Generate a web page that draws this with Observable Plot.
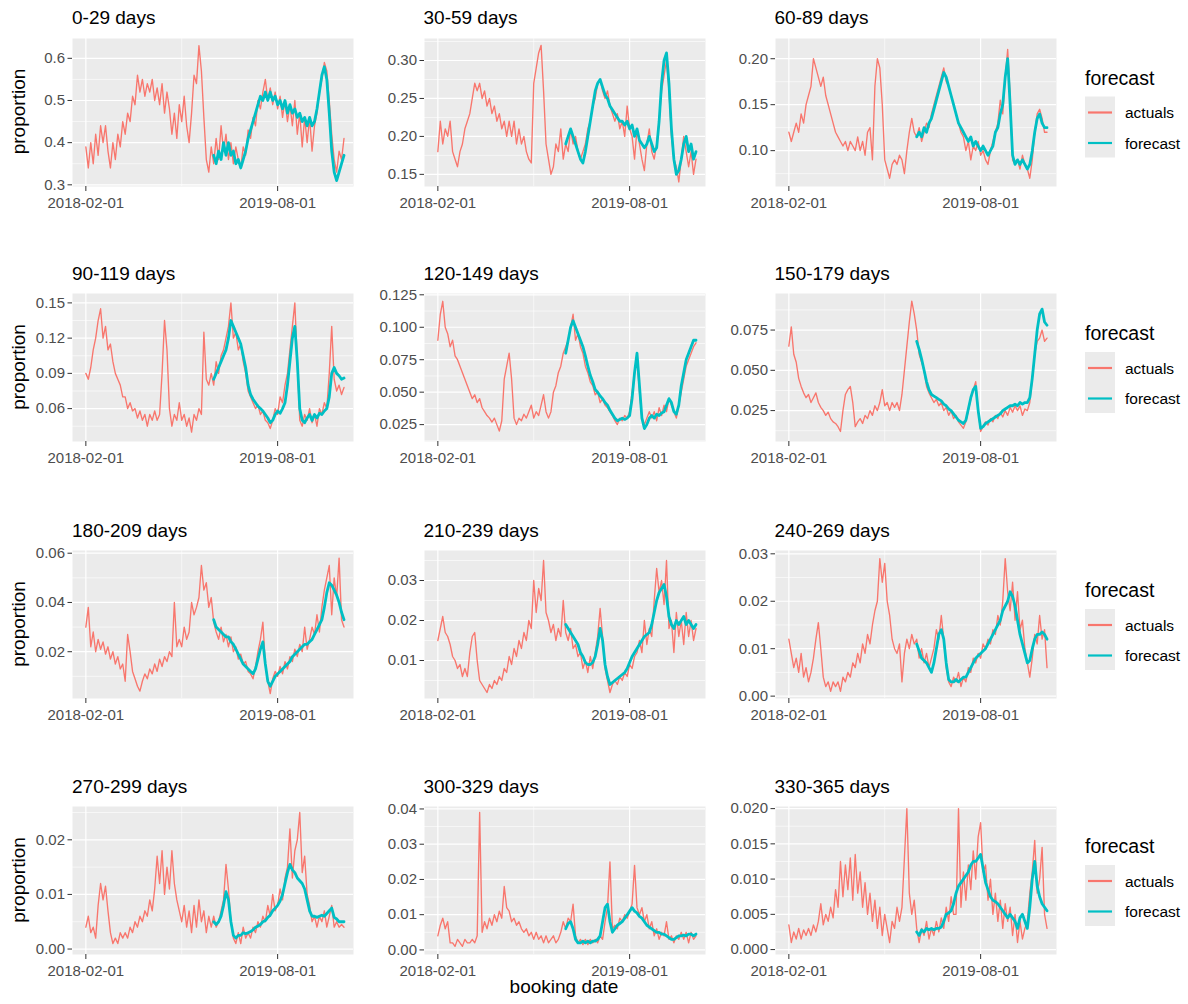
<!DOCTYPE html>
<html>
<head>
<meta charset="utf-8">
<script src="https://cdn.jsdelivr.net/npm/d3@7"></script>
<script src="https://cdn.jsdelivr.net/npm/@observablehq/plot@0.6"></script>
<style>
  body { margin: 0; background: #fff; }
  #chart { position: relative; width: 1188px; height: 1004px; font-family: "Liberation Sans", Arial, Helvetica, sans-serif; }
  #chart svg { position: absolute; }
</style>
</head>
<body>
<div id="chart"></div>
<script>
// Weekly booking-date samples starting at the first booking date; the forecast covers the final year.
const firstBookingDate = "2018-02-01";
const forecastFromWeek = 52;
const xTickDates = ["2018-02-01", "2019-08-01"];
const xTickLabels = ["2018-02-01", "2019-08-01"];
const seriesNames = ["actuals", "forecast"];
const seriesColors = ["#F8766D", "#00BFC4"];

const panelTitles = ["0-29 days", "30-59 days", "60-89 days", "90-119 days", "120-149 days", "150-179 days",
  "180-209 days", "210-239 days", "240-269 days", "270-299 days", "300-329 days", "330-365 days"];

// ---- 0-29 days
const actuals_0_29 = [
  0.39, 0.34, 0.40, 0.35, 0.42, 0.37, 0.44, 0.40, 0.44, 0.38,
  0.34, 0.40, 0.36, 0.42, 0.39, 0.45, 0.42, 0.47, 0.45, 0.51,
  0.49, 0.56, 0.52, 0.55, 0.51, 0.54, 0.52, 0.55, 0.50, 0.53,
  0.49, 0.54, 0.47, 0.52, 0.48, 0.42, 0.47, 0.41, 0.49, 0.45,
  0.51, 0.44, 0.40, 0.47, 0.56, 0.54, 0.63, 0.57, 0.46, 0.36,
  0.33, 0.39, 0.35, 0.41, 0.36, 0.44, 0.38, 0.42, 0.36, 0.40,
  0.35, 0.39, 0.36, 0.34, 0.39, 0.37, 0.43, 0.41, 0.46, 0.44,
  0.50, 0.48, 0.52, 0.55, 0.50, 0.53, 0.49, 0.52, 0.48, 0.51,
  0.46, 0.50, 0.45, 0.49, 0.44, 0.50, 0.42, 0.47, 0.39, 0.46,
  0.40, 0.46, 0.38, 0.44, 0.47, 0.52, 0.55, 0.59, 0.57, 0.50,
  0.42, 0.36, 0.33, 0.38, 0.36, 0.41];
const forecast_0_29 = [
  0.37, 0.35, 0.38, 0.36, 0.40, 0.37, 0.40, 0.37,
  0.38, 0.35, 0.36, 0.34, 0.36, 0.38, 0.41, 0.43, 0.45, 0.47,
  0.49, 0.51, 0.50, 0.52, 0.50, 0.52, 0.50, 0.51, 0.49, 0.50,
  0.48, 0.50, 0.47, 0.49, 0.47, 0.48, 0.46, 0.47, 0.45, 0.46,
  0.44, 0.46, 0.44, 0.45, 0.48, 0.52, 0.56, 0.58, 0.55, 0.47,
  0.38, 0.33, 0.31, 0.33, 0.35, 0.37];
const yTicks_0_29 = [0.3, 0.4, 0.5, 0.6];
const yLabels_0_29 = ["0.3", "0.4", "0.5", "0.6"];

// ---- 30-59 days
const actuals_30_59 = [
  0.18, 0.22, 0.19, 0.21, 0.20, 0.22, 0.18, 0.17, 0.16, 0.18,
  0.19, 0.21, 0.22, 0.23, 0.25, 0.27, 0.26, 0.27, 0.25, 0.26,
  0.24, 0.25, 0.23, 0.24, 0.22, 0.23, 0.21, 0.22, 0.20, 0.22,
  0.20, 0.22, 0.19, 0.21, 0.19, 0.20, 0.18, 0.17, 0.165, 0.27,
  0.29, 0.31, 0.32, 0.26, 0.19, 0.17, 0.15, 0.16, 0.19, 0.18,
  0.21, 0.17, 0.19, 0.18, 0.21, 0.19, 0.20, 0.18, 0.17, 0.18,
  0.19, 0.21, 0.22, 0.24, 0.25, 0.27, 0.275, 0.26, 0.25, 0.26,
  0.24, 0.23, 0.22, 0.23, 0.21, 0.22, 0.20, 0.24, 0.21, 0.20,
  0.17, 0.21, 0.19, 0.17, 0.155, 0.19, 0.21, 0.18, 0.17, 0.19,
  0.22, 0.26, 0.28, 0.30, 0.26, 0.20, 0.17, 0.16, 0.14, 0.17,
  0.20, 0.18, 0.16, 0.18, 0.15, 0.17];
const forecast_30_59 = [
  0.19, 0.20, 0.21, 0.20, 0.19, 0.18, 0.17, 0.165,
  0.18, 0.20, 0.22, 0.24, 0.26, 0.27, 0.275, 0.265, 0.255, 0.25,
  0.24, 0.235, 0.23, 0.225, 0.22, 0.22, 0.215, 0.22, 0.21, 0.215,
  0.20, 0.21, 0.195, 0.19, 0.185, 0.19, 0.20, 0.19, 0.18, 0.185,
  0.22, 0.27, 0.30, 0.31, 0.27, 0.21, 0.17, 0.15, 0.155, 0.17,
  0.19, 0.20, 0.18, 0.19, 0.17, 0.18];
const yTicks_30_59 = [0.15, 0.20, 0.25, 0.30];
const yLabels_30_59 = ["0.15", "0.20", "0.25", "0.30"];

// ---- 60-89 days
const actuals_60_89 = [
  0.12, 0.11, 0.12, 0.13, 0.12, 0.14, 0.13, 0.15, 0.16, 0.17,
  0.20, 0.19, 0.18, 0.17, 0.18, 0.16, 0.15, 0.14, 0.13, 0.12,
  0.115, 0.11, 0.105, 0.11, 0.10, 0.11, 0.105, 0.10, 0.115, 0.10,
  0.11, 0.095, 0.12, 0.125, 0.09, 0.17, 0.20, 0.19, 0.15, 0.09,
  0.08, 0.07, 0.085, 0.09, 0.085, 0.095, 0.09, 0.075, 0.10, 0.12,
  0.135, 0.12, 0.115, 0.125, 0.11, 0.12, 0.13, 0.125, 0.14, 0.15,
  0.16, 0.17, 0.18, 0.19, 0.175, 0.17, 0.16, 0.15, 0.14, 0.13,
  0.12, 0.115, 0.10, 0.11, 0.09, 0.105, 0.10, 0.11, 0.095, 0.10,
  0.09, 0.085, 0.10, 0.11, 0.12, 0.13, 0.155, 0.14, 0.18, 0.21,
  0.16, 0.09, 0.085, 0.09, 0.08, 0.095, 0.085, 0.08, 0.07, 0.09,
  0.12, 0.14, 0.145, 0.135, 0.12, 0.12];
const forecast_60_89 = [
  0.115, 0.12, 0.115, 0.125, 0.12, 0.13, 0.135, 0.145,
  0.155, 0.165, 0.175, 0.185, 0.18, 0.17, 0.16, 0.15, 0.14, 0.13,
  0.125, 0.12, 0.115, 0.11, 0.115, 0.105, 0.11, 0.105, 0.10, 0.105,
  0.10, 0.095, 0.10, 0.105, 0.12, 0.125, 0.14, 0.15, 0.18, 0.20,
  0.15, 0.095, 0.085, 0.09, 0.085, 0.09, 0.085, 0.08, 0.085, 0.10,
  0.12, 0.135, 0.14, 0.13, 0.125, 0.125];
const yTicks_60_89 = [0.10, 0.15, 0.20];
const yLabels_60_89 = ["0.10", "0.15", "0.20"];

// ---- 90-119 days
const actuals_90_119 = [
  0.09, 0.085, 0.095, 0.11, 0.12, 0.135, 0.145, 0.12, 0.13, 0.11,
  0.115, 0.10, 0.09, 0.085, 0.08, 0.07, 0.07, 0.06, 0.065, 0.058,
  0.06, 0.052, 0.058, 0.05, 0.055, 0.045, 0.055, 0.05, 0.058, 0.05,
  0.055, 0.09, 0.135, 0.11, 0.06, 0.045, 0.055, 0.05, 0.065, 0.05,
  0.055, 0.045, 0.052, 0.04, 0.055, 0.05, 0.06, 0.055, 0.125, 0.085,
  0.08, 0.09, 0.08, 0.10, 0.09, 0.105, 0.11, 0.12, 0.13, 0.15,
  0.12, 0.125, 0.11, 0.115, 0.10, 0.09, 0.075, 0.07, 0.065, 0.06,
  0.063, 0.055, 0.058, 0.05, 0.048, 0.043, 0.05, 0.06, 0.055, 0.07,
  0.065, 0.08, 0.09, 0.11, 0.13, 0.15, 0.10, 0.05, 0.045, 0.055,
  0.05, 0.06, 0.048, 0.055, 0.045, 0.06, 0.055, 0.065, 0.06, 0.09,
  0.13, 0.085, 0.075, 0.08, 0.072, 0.078];
const forecast_90_119 = [
  0.085, 0.09, 0.095, 0.10, 0.105, 0.11, 0.12, 0.135,
  0.13, 0.125, 0.12, 0.115, 0.105, 0.095, 0.08, 0.072, 0.068, 0.065,
  0.062, 0.06, 0.058, 0.055, 0.052, 0.048, 0.05, 0.055, 0.058, 0.056,
  0.06, 0.065, 0.08, 0.10, 0.12, 0.13, 0.10, 0.06, 0.05, 0.048,
  0.052, 0.055, 0.05, 0.055, 0.052, 0.056, 0.055, 0.058, 0.06, 0.07,
  0.09, 0.095, 0.09, 0.088, 0.085, 0.086];
const yTicks_90_119 = [0.06, 0.09, 0.12, 0.15];
const yLabels_90_119 = ["0.06", "0.09", "0.12", "0.15"];

// ---- 120-149 days
const actuals_120_149 = [
  0.09, 0.11, 0.12, 0.10, 0.095, 0.085, 0.09, 0.078, 0.075, 0.07,
  0.065, 0.06, 0.055, 0.05, 0.045, 0.048, 0.042, 0.045, 0.038, 0.035,
  0.032, 0.03, 0.027, 0.03, 0.025, 0.02, 0.028, 0.06, 0.07, 0.08,
  0.06, 0.03, 0.025, 0.03, 0.028, 0.033, 0.03, 0.035, 0.04, 0.03,
  0.035, 0.032, 0.04, 0.048, 0.035, 0.03, 0.035, 0.05, 0.055, 0.065,
  0.07, 0.08, 0.085, 0.09, 0.10, 0.11, 0.09, 0.095, 0.085, 0.08,
  0.07, 0.065, 0.058, 0.055, 0.048, 0.05, 0.042, 0.045, 0.04, 0.038,
  0.035, 0.032, 0.028, 0.025, 0.03, 0.028, 0.032, 0.03, 0.035, 0.05,
  0.065, 0.075, 0.05, 0.03, 0.025, 0.03, 0.035, 0.03, 0.035, 0.028,
  0.038, 0.032, 0.04, 0.035, 0.045, 0.04, 0.035, 0.03, 0.04, 0.05,
  0.06, 0.07, 0.075, 0.08, 0.085, 0.088];
const forecast_120_149 = [
  0.08, 0.09, 0.10, 0.105, 0.10, 0.095, 0.09, 0.085,
  0.078, 0.07, 0.063, 0.058, 0.052, 0.05, 0.047, 0.045, 0.042, 0.04,
  0.036, 0.033, 0.03, 0.028, 0.029, 0.03, 0.029, 0.03, 0.032, 0.045,
  0.065, 0.08, 0.055, 0.03, 0.022, 0.025, 0.03, 0.032, 0.03, 0.033,
  0.032, 0.034, 0.035, 0.04, 0.045, 0.042, 0.035, 0.033, 0.04, 0.055,
  0.065, 0.075, 0.08, 0.085, 0.09, 0.09];
const yTicks_120_149 = [0.025, 0.05, 0.075, 0.1, 0.125];
const yLabels_120_149 = ["0.025", "0.050", "0.075", "0.100", "0.125"];

// ---- 150-179 days
const actuals_150_179 = [
  0.065, 0.077, 0.06, 0.055, 0.045, 0.04, 0.036, 0.033, 0.035, 0.03,
  0.033, 0.036, 0.03, 0.027, 0.025, 0.022, 0.024, 0.02, 0.018, 0.017,
  0.015, 0.012, 0.025, 0.035, 0.038, 0.04, 0.03, 0.015, 0.018, 0.02,
  0.017, 0.022, 0.02, 0.025, 0.022, 0.028, 0.025, 0.03, 0.038, 0.028,
  0.03, 0.025, 0.03, 0.027, 0.03, 0.025, 0.035, 0.05, 0.065, 0.08,
  0.093, 0.085, 0.075, 0.06, 0.055, 0.05, 0.04, 0.036, 0.033, 0.03,
  0.032, 0.028, 0.03, 0.025, 0.027, 0.022, 0.025, 0.02, 0.022, 0.018,
  0.016, 0.014, 0.018, 0.025, 0.032, 0.038, 0.043, 0.025, 0.012, 0.015,
  0.018, 0.016, 0.02, 0.018, 0.022, 0.02, 0.024, 0.021, 0.025, 0.022,
  0.027, 0.024, 0.028, 0.025, 0.028, 0.022, 0.026, 0.025, 0.03, 0.045,
  0.06, 0.068, 0.07, 0.075, 0.068, 0.07];
const forecast_150_179 = [
  0.068, 0.063, 0.057, 0.05, 0.043, 0.038, 0.035, 0.034,
  0.033, 0.032, 0.031, 0.029, 0.028, 0.026, 0.025, 0.023, 0.021, 0.019,
  0.018, 0.017, 0.019, 0.026, 0.033, 0.038, 0.04, 0.025, 0.014, 0.015,
  0.017, 0.018, 0.019, 0.02, 0.021, 0.022, 0.023, 0.025, 0.026, 0.027,
  0.028, 0.028, 0.029, 0.028, 0.03, 0.029, 0.03, 0.03, 0.033, 0.045,
  0.06, 0.075, 0.085, 0.088, 0.08, 0.078];
const yTicks_150_179 = [0.025, 0.05, 0.075];
const yLabels_150_179 = ["0.025", "0.050", "0.075"];

// ---- 180-209 days
const actuals_180_209 = [
  0.03, 0.038, 0.022, 0.028, 0.02, 0.025, 0.021, 0.024, 0.019, 0.022,
  0.017, 0.02, 0.015, 0.018, 0.013, 0.015, 0.008, 0.027, 0.02, 0.012,
  0.009, 0.006, 0.004, 0.008, 0.011, 0.009, 0.013, 0.011, 0.015, 0.012,
  0.017, 0.014, 0.018, 0.016, 0.02, 0.018, 0.04, 0.022, 0.025, 0.022,
  0.03, 0.025, 0.028, 0.04, 0.035, 0.038, 0.042, 0.055, 0.045, 0.048,
  0.038, 0.042, 0.032, 0.028, 0.025, 0.03, 0.024, 0.027, 0.022, 0.026,
  0.02, 0.022, 0.017, 0.019, 0.015, 0.016, 0.012, 0.011, 0.009, 0.014,
  0.02, 0.025, 0.032, 0.015, 0.008, 0.003, 0.009, 0.012, 0.01, 0.014,
  0.011, 0.016, 0.013, 0.018, 0.016, 0.021, 0.018, 0.023, 0.02, 0.03,
  0.021, 0.025, 0.03, 0.027, 0.035, 0.028, 0.038, 0.045, 0.05, 0.055,
  0.035, 0.05, 0.042, 0.058, 0.033, 0.03];
const forecast_180_209 = [
  0.033, 0.03, 0.029, 0.028, 0.027, 0.026, 0.026, 0.024,
  0.023, 0.021, 0.019, 0.017, 0.015, 0.014, 0.013, 0.012, 0.011, 0.013,
  0.017, 0.021, 0.024, 0.015, 0.008, 0.006, 0.008, 0.01, 0.011, 0.012,
  0.013, 0.014, 0.015, 0.016, 0.018, 0.019, 0.02, 0.021, 0.022, 0.023,
  0.023, 0.024, 0.025, 0.027, 0.029, 0.031, 0.033, 0.038, 0.044, 0.048,
  0.047, 0.045, 0.043, 0.04, 0.036, 0.033];
const yTicks_180_209 = [0.02, 0.04, 0.06];
const yLabels_180_209 = ["0.02", "0.04", "0.06"];

// ---- 210-239 days
const actuals_210_239 = [
  0.015, 0.018, 0.021, 0.017, 0.016, 0.014, 0.011, 0.01, 0.008, 0.009,
  0.006, 0.008, 0.006, 0.012, 0.016, 0.017, 0.01, 0.005, 0.004, 0.003,
  0.002, 0.004, 0.003, 0.005, 0.004, 0.006, 0.005, 0.008, 0.007, 0.011,
  0.009, 0.013, 0.011, 0.015, 0.013, 0.017, 0.015, 0.02, 0.018, 0.03,
  0.022, 0.028, 0.025, 0.035, 0.022, 0.02, 0.017, 0.019, 0.015, 0.018,
  0.016, 0.025, 0.017, 0.015, 0.018, 0.013, 0.014, 0.011, 0.012, 0.008,
  0.01, 0.007, 0.011, 0.008, 0.012, 0.016, 0.023, 0.016, 0.008, 0.005,
  0.002, 0.004, 0.005, 0.004, 0.006, 0.005, 0.007, 0.006, 0.009, 0.008,
  0.011, 0.012, 0.015, 0.012, 0.02, 0.014, 0.018, 0.016, 0.025, 0.033,
  0.027, 0.03, 0.024, 0.035, 0.018, 0.02, 0.012, 0.022, 0.016, 0.02,
  0.014, 0.022, 0.016, 0.02, 0.015, 0.018];
const forecast_210_239 = [
  0.019, 0.018, 0.017, 0.016, 0.015, 0.014, 0.012, 0.011,
  0.0095, 0.009, 0.009, 0.0095, 0.011, 0.014, 0.018, 0.015, 0.009, 0.006,
  0.004, 0.0045, 0.005, 0.0055, 0.006, 0.0065, 0.007, 0.008, 0.0095, 0.011,
  0.012, 0.013, 0.014, 0.015, 0.016, 0.0165, 0.017, 0.019, 0.022, 0.025,
  0.027, 0.028, 0.029, 0.026, 0.021, 0.019, 0.018, 0.02, 0.019, 0.02,
  0.021, 0.019, 0.02, 0.019, 0.018, 0.019];
const yTicks_210_239 = [0.01, 0.02, 0.03];
const yLabels_210_239 = ["0.01", "0.02", "0.03"];

// ---- 240-269 days
const actuals_240_269 = [
  0.012, 0.009, 0.006, 0.008, 0.005, 0.009, 0.004, 0.006, 0.003, 0.005,
  0.008, 0.012, 0.0155, 0.01, 0.004, 0.002, 0.003, 0.001, 0.003, 0.002,
  0.003, 0.001, 0.004, 0.003, 0.005, 0.004, 0.007, 0.006, 0.009, 0.007,
  0.011, 0.009, 0.013, 0.011, 0.015, 0.018, 0.02, 0.029, 0.024, 0.028,
  0.02, 0.017, 0.012, 0.01, 0.009, 0.011, 0.003, 0.009, 0.012, 0.01,
  0.013, 0.011, 0.012, 0.008, 0.01, 0.007, 0.009, 0.006, 0.008, 0.01,
  0.014, 0.012, 0.017, 0.012, 0.006, 0.003, 0.002, 0.004, 0.003, 0.005,
  0.002, 0.004, 0.003, 0.006, 0.005, 0.008, 0.007, 0.009, 0.008, 0.011,
  0.01, 0.012, 0.011, 0.014, 0.013, 0.017, 0.015, 0.02, 0.029, 0.022,
  0.018, 0.024, 0.016, 0.022, 0.014, 0.016, 0.01, 0.007, 0.004, 0.008,
  0.013, 0.011, 0.017, 0.012, 0.014, 0.006];
const forecast_240_269 = [
  0.011, 0.0095, 0.008, 0.0075, 0.007, 0.006, 0.005, 0.007,
  0.01, 0.013, 0.014, 0.012, 0.007, 0.0035, 0.003, 0.003, 0.0035, 0.003,
  0.0035, 0.004, 0.004, 0.005, 0.006, 0.007, 0.008, 0.0085, 0.009, 0.0095,
  0.01, 0.011, 0.012, 0.013, 0.014, 0.015, 0.016, 0.018, 0.019, 0.02,
  0.022, 0.021, 0.019, 0.016, 0.013, 0.011, 0.009, 0.007, 0.0075, 0.01,
  0.012, 0.013, 0.013, 0.0135, 0.013, 0.012];
const yTicks_240_269 = [0, 0.01, 0.02, 0.03];
const yLabels_240_269 = ["0.00", "0.01", "0.02", "0.03"];

// ---- 270-299 days
const actuals_270_299 = [
  0.004, 0.006, 0.003, 0.004, 0.002, 0.008, 0.012, 0.009, 0.0115, 0.007,
  0.003, 0.001, 0.002, 0.001, 0.003, 0.002, 0.003, 0.002, 0.004, 0.003,
  0.005, 0.004, 0.006, 0.005, 0.007, 0.006, 0.009, 0.007, 0.011, 0.017,
  0.012, 0.018, 0.01, 0.015, 0.011, 0.018, 0.012, 0.009, 0.007, 0.005,
  0.008, 0.004, 0.007, 0.003, 0.008, 0.004, 0.009, 0.005, 0.007, 0.003,
  0.006, 0.004, 0.006, 0.004, 0.005, 0.007, 0.009, 0.0155, 0.011, 0.005,
  0.002, 0.001, 0.003, 0.001, 0.004, 0.002, 0.003, 0.002, 0.004, 0.003,
  0.005, 0.004, 0.006, 0.005, 0.008, 0.006, 0.01, 0.007, 0.008, 0.011,
  0.009, 0.013, 0.015, 0.022, 0.013, 0.018, 0.02, 0.025, 0.014, 0.017,
  0.01, 0.008, 0.005, 0.006, 0.004, 0.006, 0.005, 0.007, 0.004, 0.006,
  0.008, 0.004, 0.005, 0.004, 0.0045, 0.004];
const forecast_270_299 = [
  0.005, 0.0045, 0.005, 0.006, 0.008, 0.0105, 0.009, 0.005,
  0.0025, 0.002, 0.0025, 0.0025, 0.003, 0.0028, 0.003, 0.0032, 0.0035, 0.004,
  0.0042, 0.0045, 0.005, 0.0052, 0.0058, 0.0062, 0.007, 0.0075, 0.008, 0.0088,
  0.01, 0.012, 0.014, 0.0155, 0.0145, 0.014, 0.013, 0.0125, 0.012, 0.011,
  0.009, 0.007, 0.006, 0.006, 0.0058, 0.006, 0.0062, 0.006, 0.0065, 0.007,
  0.0075, 0.0058, 0.0055, 0.005, 0.005, 0.005];
const yTicks_270_299 = [0, 0.01, 0.02];
const yLabels_270_299 = ["0.00", "0.01", "0.02"];

// ---- 300-329 days
const actuals_300_329 = [
  0.004, 0.007, 0.009, 0.006, 0.008, 0.002, 0.002, 0.001, 0.003, 0.002,
  0.001, 0.003, 0.002, 0.002, 0.003, 0.002, 0.004, 0.039, 0.005, 0.008,
  0.006, 0.009, 0.007, 0.01, 0.008, 0.011, 0.009, 0.018, 0.012, 0.011,
  0.008, 0.009, 0.007, 0.008, 0.006, 0.005, 0.006, 0.004, 0.005, 0.003,
  0.005, 0.003, 0.004, 0.002, 0.004, 0.002, 0.003, 0.004, 0.002, 0.003,
  0.005, 0.008, 0.006, 0.009, 0.008, 0.013, 0.004, 0.002, 0.003, 0.0015,
  0.003, 0.0015, 0.003, 0.002, 0.003, 0.002, 0.004, 0.003, 0.008, 0.012,
  0.025, 0.006, 0.007, 0.006, 0.009, 0.008, 0.01, 0.009, 0.011, 0.013,
  0.024, 0.012, 0.01, 0.012, 0.008, 0.01, 0.006, 0.008, 0.004, 0.006,
  0.003, 0.005, 0.004, 0.008, 0.003, 0.004, 0.002, 0.004, 0.003, 0.005,
  0.003, 0.005, 0.002, 0.005, 0.003, 0.004];
const forecast_300_329 = [
  0.006, 0.0075, 0.008, 0.006, 0.003, 0.002, 0.002, 0.0025,
  0.002, 0.0025, 0.002, 0.0025, 0.0025, 0.003, 0.004, 0.008, 0.012, 0.013,
  0.008, 0.005, 0.006, 0.007, 0.0075, 0.008, 0.009, 0.01, 0.011, 0.012,
  0.011, 0.0105, 0.0095, 0.009, 0.008, 0.007, 0.0065, 0.006, 0.0055, 0.005,
  0.005, 0.0045, 0.0045, 0.004, 0.0035, 0.003, 0.003, 0.0035, 0.004, 0.004,
  0.0042, 0.004, 0.0045, 0.0045, 0.004, 0.0045];
const yTicks_300_329 = [0, 0.01, 0.02, 0.03, 0.04];
const yLabels_300_329 = ["0.00", "0.01", "0.02", "0.03", "0.04"];

// ---- 330-365 days
const actuals_330_365 = [
  0.0035, 0.001, 0.0025, 0.0015, 0.003, 0.0015, 0.0028, 0.002, 0.003, 0.002,
  0.0035, 0.0025, 0.004, 0.0065, 0.0035, 0.005, 0.004, 0.006, 0.0045, 0.0085,
  0.006, 0.0125, 0.0075, 0.012, 0.0085, 0.013, 0.007, 0.0135, 0.008, 0.011,
  0.006, 0.0095, 0.005, 0.008, 0.004, 0.007, 0.003, 0.006, 0.002, 0.005,
  0.003, 0.001, 0.004, 0.003, 0.006, 0.004, 0.006, 0.013, 0.02, 0.008,
  0.005, 0.007, 0.003, 0.001, 0.003, 0.002, 0.004, 0.0015, 0.003, 0.002,
  0.004, 0.0025, 0.0045, 0.003, 0.006, 0.004, 0.0075, 0.005, 0.005, 0.02,
  0.006, 0.011, 0.007, 0.012, 0.0085, 0.014, 0.01, 0.016, 0.018, 0.011,
  0.012, 0.007, 0.01, 0.005, 0.008, 0.004, 0.007, 0.003, 0.0065, 0.004,
  0.006, 0.002, 0.005, 0.001, 0.004, 0.0015, 0.003, 0.004, 0.008, 0.011,
  0.0155, 0.008, 0.01, 0.0145, 0.005, 0.003];
const forecast_330_365 = [
  0.0025, 0.002, 0.0028, 0.0025, 0.003, 0.0028, 0.003, 0.0028,
  0.003, 0.003, 0.0032, 0.004, 0.005, 0.0052, 0.0055, 0.0065, 0.008, 0.009,
  0.0095, 0.01, 0.0105, 0.011, 0.012, 0.0125, 0.0125, 0.013, 0.0135, 0.0115,
  0.0095, 0.0085, 0.0075, 0.007, 0.0068, 0.0065, 0.006, 0.0055, 0.005, 0.0045,
  0.005, 0.0045, 0.004, 0.003, 0.0045, 0.005, 0.004, 0.003, 0.006, 0.01,
  0.0125, 0.009, 0.0075, 0.0065, 0.006, 0.0055];
const yTicks_330_365 = [0, 0.005, 0.01, 0.015, 0.02];
const yLabels_330_365 = ["0.000", "0.005", "0.010", "0.015", "0.020"];

// Panel definitions (y domain includes the usual 5% padding around the data).
const panels = [
  {actuals: actuals_0_29, forecast: forecast_0_29, ticks: yTicks_0_29, labels: yLabels_0_29, domain: [0.296, 0.647]},
  {actuals: actuals_30_59, forecast: forecast_30_59, ticks: yTicks_30_59, labels: yLabels_30_59, domain: [0.134, 0.329]},
  {actuals: actuals_60_89, forecast: forecast_60_89, ticks: yTicks_60_89, labels: yLabels_60_89, domain: [0.061, 0.222]},
  {actuals: actuals_90_119, forecast: forecast_90_119, ticks: yTicks_90_119, labels: yLabels_90_119, domain: [0.032, 0.158]},
  {actuals: actuals_120_149, forecast: forecast_120_149, ticks: yTicks_120_149, labels: yLabels_120_149, domain: [0.012, 0.126]},
  {actuals: actuals_150_179, forecast: forecast_150_179, ticks: yTicks_150_179, labels: yLabels_150_179, domain: [0.0058, 0.0977]},
  {actuals: actuals_180_209, forecast: forecast_180_209, ticks: yTicks_180_209, labels: yLabels_180_209, domain: [0.001, 0.0611]},
  {actuals: actuals_210_239, forecast: forecast_210_239, ticks: yTicks_210_239, labels: yLabels_210_239, domain: [0.0005, 0.0375]},
  {actuals: actuals_240_269, forecast: forecast_240_269, ticks: yTicks_240_269, labels: yLabels_240_269, domain: [-0.0005, 0.0307]},
  {actuals: actuals_270_299, forecast: forecast_270_299, ticks: yTicks_270_299, labels: yLabels_270_299, domain: [-0.001, 0.0261]},
  {actuals: actuals_300_329, forecast: forecast_300_329, ticks: yTicks_300_329, labels: yLabels_300_329, domain: [-0.0013, 0.0407]},
  {actuals: actuals_330_365, forecast: forecast_330_365, ticks: yTicks_330_365, labels: yLabels_330_365, domain: [-0.0007, 0.0203]}
];

// ---- layout
const PANEL_W = 281, PANEL_H = 148;
const colLeft = [72, 423.5, 774.5];
const rowTop = [37.5, 293, 550, 806];
const M = {left: 60, right: 6, top: 4, bottom: 34};
const FONT = "Liberation Sans, Arial, Helvetica, sans-serif";
const xDomain = [new Date("2017-12-25"), new Date("2020-03-04")];
const DAY = 864e5;
const startMs = new Date(firstBookingDate).getTime();

const xTicks = xTickDates.map(d => new Date(d));
const xLabelOf = new Map(xTicks.map((d, i) => [d.getTime(), xTickLabels[i]]));
const xMinor = [new Date((xTicks[0].getTime() + xTicks[1].getTime()) / 2)];

const chart = document.getElementById("chart");
const SVGNS = "http://www.w3.org/2000/svg";

function toRows(values, offsetWeeks) {
  return values.map((v, i) => ({date: new Date(startMs + (i + offsetWeeks) * 7 * DAY), value: v}));
}

function minorBreaks(ticks, domain) {
  const step = ticks[1] - ticks[0];
  const out = [ticks[0] - step / 2, ...ticks.map(t => t + step / 2)];
  return out.filter(v => v >= domain[0] && v <= domain[1]);
}

panels.forEach((p, i) => {
  const col = i % 3, row = Math.floor(i / 3);
  const labelOf = new Map(p.ticks.map((t, j) => [t, p.labels[j]]));
  const svg = Plot.plot({
    width: M.left + PANEL_W + M.right,
    height: M.top + PANEL_H + M.bottom,
    marginLeft: M.left, marginRight: M.right, marginTop: M.top, marginBottom: M.bottom,
    style: {background: "transparent", fontFamily: FONT, fontSize: "15px", color: "#4D4D4D", overflow: "visible"},
    x: {type: "utc", domain: xDomain, label: null},
    y: {domain: p.domain, label: null},
    marks: [
      Plot.frame({fill: "#EBEBEB", stroke: null}),
      Plot.ruleY(minorBreaks(p.ticks, p.domain), {stroke: "#fff", strokeWidth: 0.6}),
      Plot.ruleX(xMinor, {stroke: "#fff", strokeWidth: 0.6}),
      Plot.ruleY(p.ticks, {stroke: "#fff", strokeWidth: 1.2}),
      Plot.ruleX(xTicks, {stroke: "#fff", strokeWidth: 1.2}),
      Plot.axisY(p.ticks, {tickFormat: d => labelOf.get(d), tickSize: 4.5, tickPadding: 3, fontSize: 15, color: "#4D4D4D", stroke: "#333", label: null}),
      Plot.axisX(xTicks, {tickFormat: d => xLabelOf.get(d.getTime()), tickSize: 5, tickPadding: 6, fontSize: 15, color: "#4D4D4D", stroke: "#333", label: null}),
      Plot.lineY(toRows(p.actuals, 0), {x: "date", y: "value", stroke: seriesColors[0], strokeWidth: 1.35}),
      Plot.lineY(toRows(p.forecast, forecastFromWeek), {x: "date", y: "value", stroke: seriesColors[1], strokeWidth: 2.8})
    ]
  });
  svg.style.left = (colLeft[col] - M.left) + "px";
  svg.style.top = (rowTop[row] - M.top) + "px";
  chart.appendChild(svg);
});

// ---- titles, axis titles and legends
const overlay = document.createElementNS(SVGNS, "svg");
overlay.setAttribute("width", 1188);
overlay.setAttribute("height", 1004);
overlay.style.left = "0px";
overlay.style.top = "0px";
overlay.style.fontFamily = FONT;
chart.insertBefore(overlay, chart.firstChild);

function addText(x, y, str, size, opts = {}) {
  const t = document.createElementNS(SVGNS, "text");
  t.setAttribute("x", x);
  t.setAttribute("y", y);
  t.setAttribute("font-size", size);
  t.setAttribute("fill", opts.fill || "#000");
  if (opts.anchor) t.setAttribute("text-anchor", opts.anchor);
  if (opts.transform) t.setAttribute("transform", opts.transform);
  t.textContent = str;
  overlay.appendChild(t);
  return t;
}
function addEl(tag, attrs) {
  const e = document.createElementNS(SVGNS, tag);
  for (const k in attrs) e.setAttribute(k, attrs[k]);
  overlay.appendChild(e);
  return e;
}

panelTitles.forEach((title, i) => {
  const col = i % 3, row = Math.floor(i / 3);
  addText(colLeft[col], rowTop[row] - 13.5, title, 19);
});

rowTop.forEach(top => {
  const cy = top + PANEL_H / 2;
  addText(0, 0, "proportion", 19, {anchor: "middle", transform: `translate(25,${cy}) rotate(-90)`});
  // legend
  addText(1085, top + 47, "forecast", 19.5);
  addEl("rect", {x: 1085, y: top + 59, width: 30, height: 61, fill: "#EBEBEB"});
  seriesNames.forEach((name, j) => {
    const ly = top + 75 + j * 30.5;
    addEl("line", {x1: 1088, x2: 1112, y1: ly, y2: ly, stroke: seriesColors[j], "stroke-width": 2.2});
    addText(1125, ly + 5.5, name, 15.5);
  });
});

addText(colLeft[1] + PANEL_W / 2, 993, "booking date", 19, {anchor: "middle"});
</script>
</body>
</html>
